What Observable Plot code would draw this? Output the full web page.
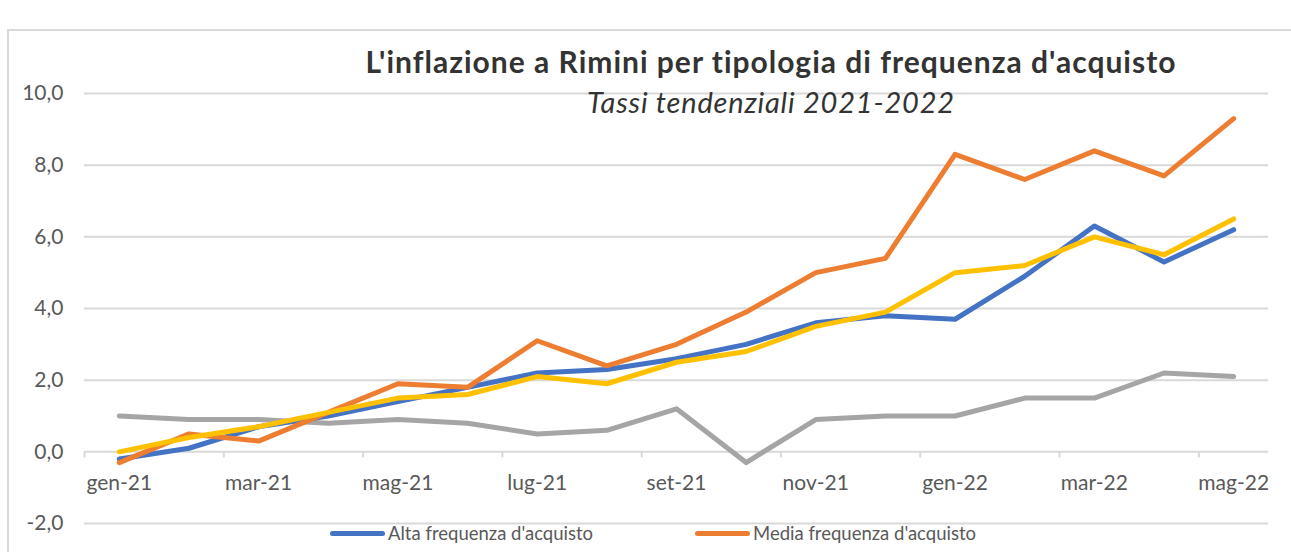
<!DOCTYPE html>
<html>
<head>
<meta charset="utf-8">
<script src="https://cdn.jsdelivr.net/npm/d3@7"></script>
<script src="https://cdn.jsdelivr.net/npm/@observablehq/plot@0.6"></script>
<style>
  body { margin: 0; background: #fff; }
  #wrap { position: relative; width: 1291px; height: 552px; overflow: hidden; font-family: Lato, "Open Sans", sans-serif; background: #fff; }
  #frame { position: absolute; left: 7px; top: 29px; width: 1400px; height: 700px; border: 2px solid #d9d9d9; box-sizing: border-box; }
  #chart { position: absolute; left: 0; top: 0; }
  .ttl { position: absolute; left: 771px; transform: translateX(-50%); white-space: nowrap; line-height: 1.2; color: #333; }
  #title { top: 43px; font-size: 30px; font-weight: 700; letter-spacing: 1px; }
  #subtitle { top: 85px; font-size: 29px; font-style: italic; font-weight: 400; letter-spacing: 0.8px; }
  #legend { position: absolute; top: 522px; left: 0; width: 1291px; height: 24px; font-size: 18.5px; color: #595959; }
  .item { position: absolute; display: flex; align-items: center; white-space: nowrap; }
  .sw { width: 55px; height: 5px; border-radius: 3px; margin-right: 3px; }
</style>
</head>
<body>
<div id="wrap">
  <div id="frame"></div>
  <div id="chart"></div>
  <div id="title" class="ttl">L'inflazione a Rimini per tipologia di frequenza d'acquisto</div>
  <div id="subtitle" class="ttl">Tassi tendenziali 2021-2022</div>
  <div id="legend"></div>
</div>
<script>
const categories = ["gen-21","feb-21","mar-21","apr-21","mag-21","giu-21","lug-21","ago-21","set-21","ott-21","nov-21","dic-21","gen-22","feb-22","mar-22","apr-22","mag-22"];
const alta     = [-0.2, 0.1, 0.7, 1.0, 1.4, 1.8, 2.2, 2.3, 2.6, 3.0, 3.6, 3.8, 3.7, 4.9, 6.3, 5.3, 6.2];
const media    = [-0.3, 0.5, 0.3, 1.1, 1.9, 1.8, 3.1, 2.4, 3.0, 3.9, 5.0, 5.4, 8.3, 7.6, 8.4, 7.7, 9.3];
const bassa    = [1.0, 0.9, 0.9, 0.8, 0.9, 0.8, 0.5, 0.6, 1.2, -0.3, 0.9, 1.0, 1.0, 1.5, 1.5, 2.2, 2.1];
const generale = [0.0, 0.4, 0.7, 1.1, 1.5, 1.6, 2.1, 1.9, 2.5, 2.8, 3.5, 3.9, 5.0, 5.2, 6.0, 5.5, 6.5];
const seriesNames  = ["Bassa frequenza d'acquisto", "Alta frequenza d'acquisto", "Media frequenza d'acquisto", "Indice generale"];
const seriesValues = [bassa, alta, media, generale];
const seriesColors = ["#A5A5A5", "#4472C4", "#ED7D31", "#FFC000"];
const legendNames  = ["Alta frequenza d'acquisto", "Media frequenza d'acquisto"];
const yTicks = [-2, 0, 2, 4, 6, 8, 10];
const labelIndex = [0, 2, 4, 6, 8, 10, 12, 14, 16];
const tickBetween = [-0.5, 1.5, 3.5, 5.5, 7.5, 9.5, 11.5, 13.5, 15.5];

const rows = seriesNames.flatMap((name, s) => seriesValues[s].map((v, i) => ({serie: name, i, v})));

const chart = Plot.plot({
  width: 1291,
  height: 552,
  marginLeft: 84,
  marginRight: 23,
  marginTop: 93,
  marginBottom: 29,
  style: {fontFamily: "Lato, 'Open Sans', sans-serif", fontSize: "21px", color: "#595959", background: "transparent", overflow: "visible"},
  x: {type: "linear", domain: [-0.5, 16.5], axis: null},
  y: {domain: [-2, 10], ticks: yTicks, tickSize: 0, tickPadding: 21, label: null,
      tickFormat: d => d.toFixed(1).replace(".", ",")},
  color: {domain: seriesNames, range: seriesColors},
  marks: [
    Plot.ruleY(yTicks, {stroke: "#d9d9d9", strokeWidth: 2}),
    Plot.ruleX(tickBetween, {x: d => d, y1: 0, y2: -0.17, stroke: "#d9d9d9", strokeWidth: 2}),
    Plot.text(labelIndex, {x: d => d, y: () => 0, dy: 31, text: d => categories[d], fill: "#595959", fontSize: 21}),
    Plot.line(rows, {x: "i", y: "v", z: "serie", stroke: "serie", strokeWidth: 5, strokeLinejoin: "round", strokeLinecap: "round"})
  ]
});
document.getElementById("chart").appendChild(chart);

const legend = document.getElementById("legend");
const legendLeft = [330, 695];
legendNames.forEach((name, k) => {
  const item = document.createElement("div");
  item.className = "item";
  item.style.left = legendLeft[k] + "px";
  const sw = document.createElement("div");
  sw.className = "sw";
  sw.style.background = seriesColors[seriesNames.indexOf(name)];
  const t = document.createElement("span");
  t.textContent = name;
  item.appendChild(sw);
  item.appendChild(t);
  legend.appendChild(item);
});
</script>
</body>
</html>
